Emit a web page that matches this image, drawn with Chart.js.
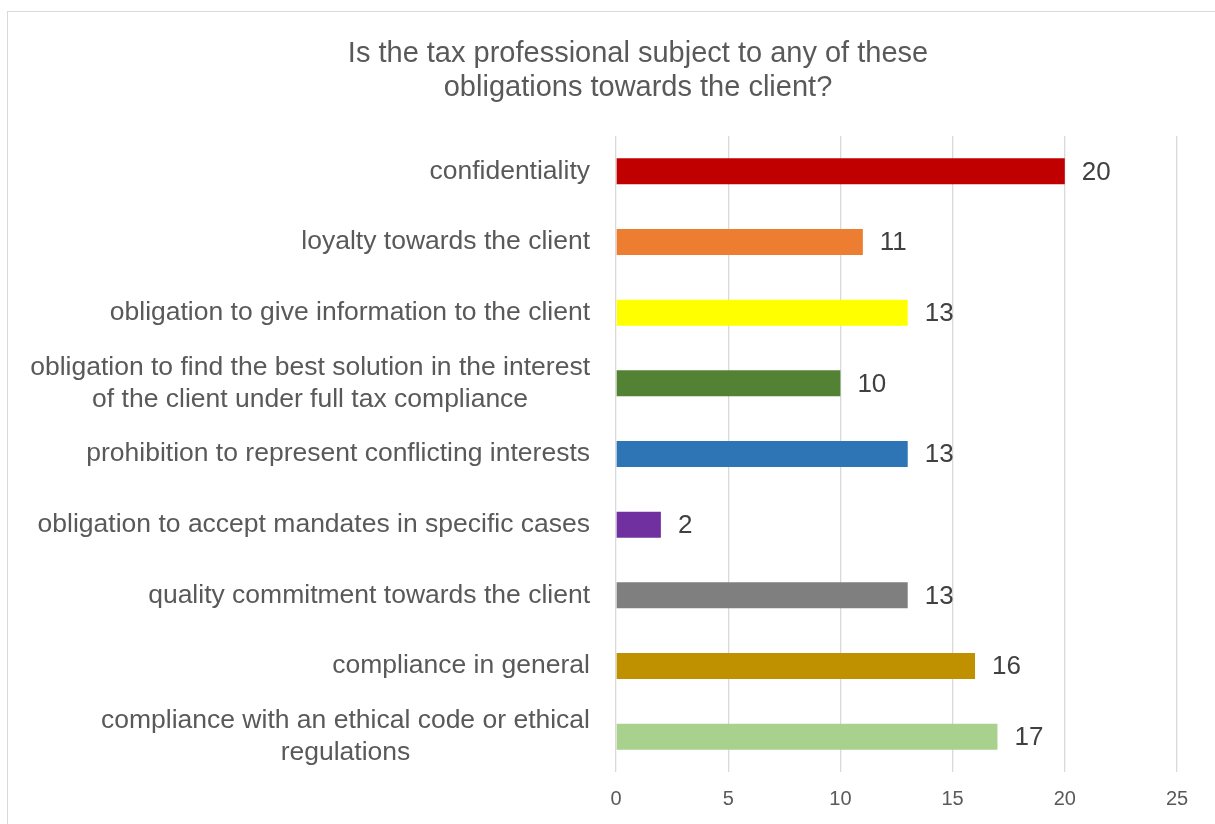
<!DOCTYPE html>
<html>
<head>
<meta charset="utf-8">
<title>Obligations towards the client</title>
<script src="https://cdn.jsdelivr.net/npm/chart.js@4/dist/chart.umd.min.js"></script>
<style>
  html, body { margin: 0; padding: 0; background: #ffffff; overflow: hidden; }
  #frame {
    position: absolute; left: 7px; top: 11px;
    width: 1260px; height: 830px;
    border: 1px solid #d9d9d9; background: #ffffff;
  }
  canvas { display: block; }
</style>
</head>
<body>
<div id="frame"><canvas id="chart" width="1260" height="830"></canvas></div>
<script>
// Survey answers: how many respondents named each obligation
const categories = [
  ["confidentiality"],
  ["loyalty towards the client"],
  ["obligation to give information to the client"],
  ["obligation to find the best solution in the interest", "of the client under full tax compliance"],
  ["prohibition to represent conflicting interests"],
  ["obligation to accept mandates in specific cases"],
  ["quality commitment towards the client"],
  ["compliance in general"],
  ["compliance with an ethical code or ethical", "regulations"]
];
const counts = [20, 11, 13, 10, 13, 2, 13, 16, 17];
const barColors = ["#C00000", "#ED7D31", "#FFFF00", "#548235", "#2E75B6", "#7030A0", "#7F7F7F", "#BF9000", "#A9D18E"];
const xTicks = [0, 5, 10, 15, 20, 25];
const titleLines = ["Is the tax professional subject to any of these", "obligations towards the client?"];

const FONT = "'Liberation Sans', Arial, sans-serif";
const TEXT_GREY = "#595959";

// Category names: each block is right-aligned to the axis, lines centred inside the block
const categoryLabels = {
  id: "categoryLabels",
  afterDraw(chart) {
    const y = chart.scales.y;
    const ctx = chart.ctx;
    ctx.save();
    ctx.font = "26.5px " + FONT;
    ctx.fillStyle = TEXT_GREY;
    ctx.textAlign = "center";
    ctx.textBaseline = "middle";
    const lineH = 32;
    const right = chart.chartArea.left - 26;
    categories.forEach((lines, i) => {
      const cy = y.getPixelForTick(i);
      const w = Math.max(...lines.map(l => ctx.measureText(l).width));
      const cx = right - w / 2;
      const y0 = cy - (lines.length - 1) * lineH / 2;
      lines.forEach((l, k) => ctx.fillText(l, cx, y0 + k * lineH));
    });
    ctx.restore();
  }
};

// Value printed just past the end of each bar
const valueLabels = {
  id: "valueLabels",
  afterDatasetsDraw(chart) {
    const ctx = chart.ctx;
    const meta = chart.getDatasetMeta(0);
    ctx.save();
    ctx.font = "26px " + FONT;
    ctx.fillStyle = "#404040";
    ctx.textAlign = "left";
    ctx.textBaseline = "middle";
    meta.data.forEach((bar, i) => {
      ctx.fillText(String(counts[i]), bar.x + 17, bar.y + 1);
    });
    ctx.restore();
  }
};

new Chart(document.getElementById("chart"), {
  type: "bar",
  data: {
    labels: categories,
    datasets: [{
      data: counts,
      backgroundColor: barColors,
      borderWidth: 0,
      categoryPercentage: 1,
      barPercentage: 0.368
    }]
  },
  options: {
    indexAxis: "y",
    responsive: false,
    animation: false,
    devicePixelRatio: 1,
    layout: { padding: 0 },
    plugins: {
      legend: { display: false },
      tooltip: { enabled: false },
      title: {
        display: true,
        text: titleLines,
        color: TEXT_GREY,
        font: { family: FONT, size: 29, weight: "normal", lineHeight: 34 / 29 },
        padding: { top: 25, bottom: 31 }
      }
    },
    scales: {
      x: {
        min: xTicks[0],
        max: xTicks[xTicks.length - 1],
        afterBuildTicks(scale) { scale.ticks = xTicks.map(v => ({ value: v })); },
        afterFit(scale) { scale.height = 70; },
        grid: { color: "#d9d9d9", lineWidth: 1.3, drawTicks: false },
        border: { display: false },
        ticks: {
          color: TEXT_GREY,
          padding: 15,
          font: { family: FONT, size: 20 }
        }
      },
      y: {
        afterFit(scale) { scale.width = 608; },
        grid: { display: false },
        border: { display: false },
        ticks: { display: false }
      },
      // empty margin on the right of the plot, keeps the title centred on the whole frame
      rightMargin: {
        type: "category",
        axis: "y",
        position: "right",
        labels: categories,
        afterFit(scale) { scale.width = 91; },
        grid: { display: false },
        border: { display: false },
        ticks: { display: false }
      }
    }
  },
  plugins: [categoryLabels, valueLabels]
});
</script>
</body>
</html>
